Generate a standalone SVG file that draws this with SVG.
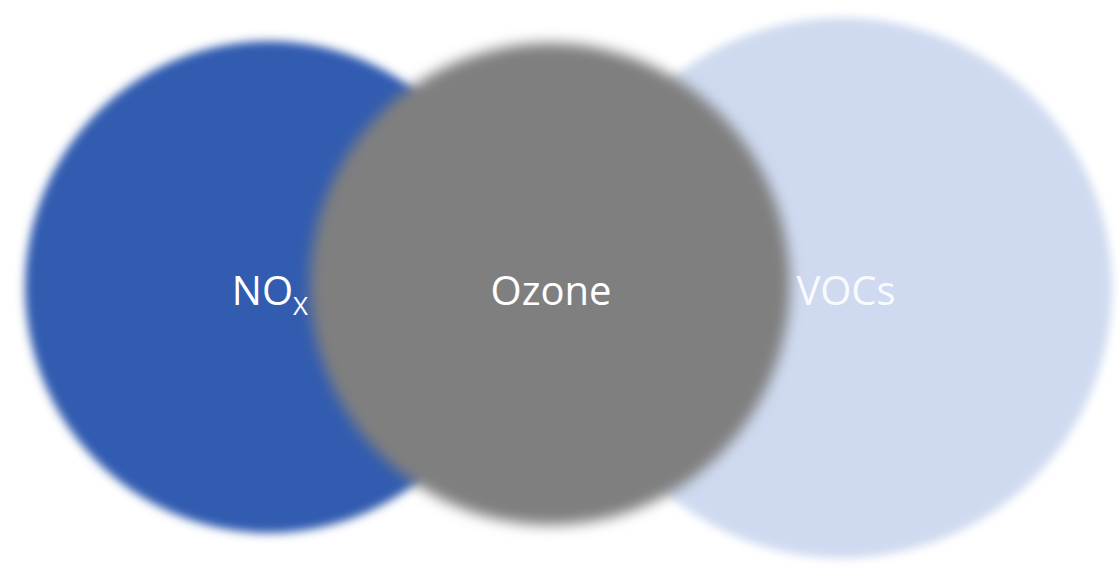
<svg xmlns="http://www.w3.org/2000/svg" width="1119" height="568" viewBox="0 0 1119 568">
<defs>
<filter id="soft" x="-20%" y="-20%" width="140%" height="140%">
<feGaussianBlur stdDeviation="5"/>
</filter>
<filter id="softer" x="-20%" y="-20%" width="140%" height="140%">
<feGaussianBlur stdDeviation="7"/>
</filter>
</defs>
<style>
.lbl{font-family:"Open Sans","Liberation Sans",sans-serif;font-size:40px;fill:#ffffff;text-anchor:middle}
.sub{font-size:26px}
</style>
<rect width="1119" height="568" fill="#ffffff"/>
<g id="nox">
<ellipse cx="269" cy="287" rx="244" ry="246" fill="#325BB0" filter="url(#soft)"/>
</g>
<g id="vocs">
<circle cx="842" cy="288" r="270" fill="#CFDAF0" filter="url(#soft)"/>
</g>
<g id="ozone">
<ellipse cx="550" cy="284" rx="240" ry="241" fill="#7F7F7F" filter="url(#softer)"/>
</g>
<g id="connectors"></g>
<g id="labels">
<text class="lbl" x="270" y="305">NO<tspan class="sub" dy="10">X</tspan></text>
<text class="lbl" x="551" y="305">Ozone</text>
<text class="lbl" x="846" y="305" fill-opacity="0.9">VOCs</text>
</g>
</svg>
